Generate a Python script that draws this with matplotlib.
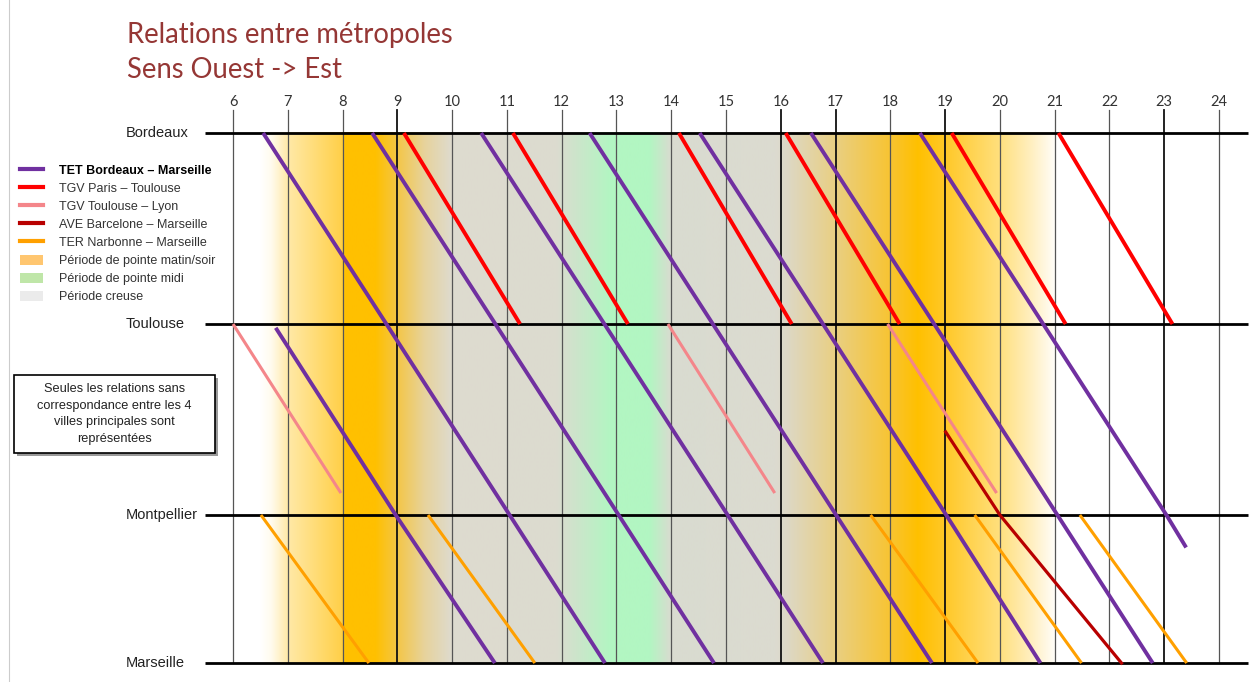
import numpy as np
import matplotlib
matplotlib.use("Agg")
import matplotlib.pyplot as plt
from matplotlib.lines import Line2D
from matplotlib.patches import Patch, Rectangle

# --- data -----------------------------------------------------------------
hours = list(range(6, 25))
stations = ["Bordeaux", "Toulouse", "Montpellier", "Marseille"]
station_pos = [0.0, 1.0, 2.0, 2.775]

# TET Bordeaux - Marseille: (times, positions along the line)
tet_runs = [
    ([6.78, 8.97, 10.78], [1.02, 2.0, 2.775]),
    ([6.55, 8.80, 11.05, 12.79], [0.0, 1.0, 2.0, 2.775]),
    ([8.54, 10.79, 13.04, 14.78], [0.0, 1.0, 2.0, 2.775]),
    ([10.53, 12.78, 15.03, 16.77], [0.0, 1.0, 2.0, 2.775]),
    ([12.51, 14.76, 17.01, 18.76], [0.0, 1.0, 2.0, 2.775]),
    ([14.52, 16.77, 19.02, 20.74], [0.0, 1.0, 2.0, 2.775]),
    ([16.55, 18.80, 21.05, 22.79], [0.0, 1.0, 2.0, 2.775]),
    ([18.54, 20.79, 23.04, 23.40], [0.0, 1.0, 2.0, 2.17]),
]
# TGV Paris - Toulouse (Bordeaux -> Toulouse)
tgv_pt_dep = [9.12, 11.11, 14.14, 16.09, 19.12, 21.07]
tgv_pt_arr = [11.24, 13.21, 16.20, 18.17, 21.20, 23.15]
# TGV Toulouse - Lyon (Toulouse -> towards Montpellier)
tgv_tl_dep = [6.00, 13.94, 17.95]
tgv_tl_end = [7.97, 15.89, 19.94]
tgv_tl_pos = [1.0, 1.885]
# AVE Barcelone - Marseille
ave_times = [19.01, 20.00, 22.22]
ave_pos = [1.565, 2.0, 2.775]
# TER Narbonne - Marseille (Montpellier -> Marseille)
ter_dep = [6.51, 9.56, 17.64, 19.54, 21.46]
ter_arr = [8.48, 11.51, 19.60, 21.49, 23.41]

# background periods (hour, colour)
bg_stops = [
    (6.50, "#FFFFFF"), (6.70, "#FFFBEE"), (7.00, "#FFE9A8"), (7.60, "#FFDA6E"),
    (7.98, "#FFD04A"), (8.05, "#FFC000"), (8.60, "#FFC000"), (9.00, "#F4C646"),
    (9.50, "#E7D39C"), (10.00, "#DEDBCF"), (11.90, "#DCDBD0"), (12.90, "#B2F6C2"),
    (13.60, "#B2F6C2"), (14.00, "#D9DBD0"), (15.90, "#DCDBD0"), (16.10, "#DDD8C6"),
    (17.00, "#E9CF82"), (18.00, "#F8C432"), (18.50, "#FFC000"), (19.00, "#FFC828"),
    (20.00, "#FFE07E"), (20.60, "#FFF0C4"), (21.05, "#FFFFFF"),
]

# --- figure ---------------------------------------------------------------
W, H = 1250, 682
fig = plt.figure(figsize=(W / 100, H / 100), dpi=100)
ax = fig.add_axes([0, 0, 1, 1])
ax.axis("off")
pxh = 986 / 18
pxu = 191
ax.set_xlim(6 - 233 / pxh, 6 + (W - 233) / pxh)
ax.set_ylim((H - 133) / pxu, -133 / pxu)

# gradient background
xs = np.linspace(bg_stops[0][0], bg_stops[-1][0], 1200)
sh = [s[0] for s in bg_stops]
rgb = np.array([matplotlib.colors.to_rgb(s[1]) for s in bg_stops])
img = np.stack([np.interp(xs, sh, rgb[:, i]) for i in range(3)], axis=-1)
ax.imshow(img[None, :, :], extent=[xs[0], xs[-1], station_pos[-1], 0],
          aspect="auto", zorder=0, interpolation="bilinear")

# hour grid
thick = [9, 16, 17, 19, 23]
for h in hours:
    ax.plot([h, h], [-23 / pxu, station_pos[-1]], color="#111111" if h in thick else "#555555",
            lw=1.3 if h in thick else 0.9, zorder=1)
    ax.text(h, -31 / pxu, str(h), ha="center", va="center", fontsize=10.5,
            family="Lato", color="#333333")

# station lines
ax.hlines(station_pos, 6 - 28 / pxh, 6 + 1015 / pxh, color="black", lw=2, zorder=2)
for name, p in zip(stations, station_pos):
    ax.text(6 - 107 / pxh, p, name, ha="left", va="center", fontsize=10.5,
            family="Liberation Sans", color="#222222")

c_tet, c_tgv, c_tl, c_ave, c_ter = "#7030A0", "#FF0000", "#F4868A", "#B80000", "#FFA000"

for t, p in tet_runs:
    ax.plot(t, p, color=c_tet, lw=2.8, zorder=4, solid_capstyle="butt")
for d, a in zip(tgv_pt_dep, tgv_pt_arr):
    ax.plot([d, a], [0, 1], color=c_tgv, lw=2.8, zorder=4, solid_capstyle="butt")
for d, a in zip(tgv_tl_dep, tgv_tl_end):
    ax.plot([d, a], tgv_tl_pos, color=c_tl, lw=2.2, zorder=3, solid_capstyle="butt")
ax.plot(ave_times, ave_pos, color=c_ave, lw=2.3, zorder=4)
for d, a in zip(ter_dep, ter_arr):
    ax.plot([d, a], [2.0, 2.775], color=c_ter, lw=2.2, zorder=3, solid_capstyle="butt")

# title
fig.text(127 / W, 1 - 35 / H, "Relations entre métropoles", fontsize=19.8, family="Lato",
         color="#953735", va="center", ha="left")
fig.text(127 / W, 1 - 70 / H, "Sens Ouest -> Est", fontsize=19.8, family="Lato",
         color="#953735", va="center", ha="left")

# legend
handles = [
    Line2D([], [], color=c_tet, lw=3),
    Line2D([], [], color=c_tgv, lw=3),
    Line2D([], [], color=c_tl, lw=3),
    Line2D([], [], color=c_ave, lw=3),
    Line2D([], [], color=c_ter, lw=3),
    Patch(facecolor="#FFC670", edgecolor="none"),
    Patch(facecolor="#BFE6A8", edgecolor="none"),
    Patch(facecolor="#EBEBEB", edgecolor="none"),
]
labels = ["TET Bordeaux – Marseille", "TGV Paris – Toulouse", "TGV Toulouse – Lyon",
          "AVE Barcelone – Marseille", "TER Narbonne – Marseille",
          "Période de pointe matin/soir", "Période de pointe midi", "Période creuse"]
leg = fig.legend(handles, labels, loc="upper left", bbox_to_anchor=(20 / W, 1 - 164 / H),
                 frameon=False, prop={"family": "Liberation Sans", "size": 9},
                 handlelength=1.8, handleheight=0.9, handletextpad=1.3, labelspacing=0.45,
                 borderaxespad=0, borderpad=0)
for txt in leg.get_texts():
    txt.set_color("#333333")
leg.get_texts()[0].set_fontweight("bold")
leg.get_texts()[0].set_color("black")

# note box
fig.add_artist(Rectangle((17 / W, 1 - 456 / H), 201 / W, 78 / H, transform=fig.transFigure,
                         facecolor="#9a9a9a", edgecolor="none", zorder=5))
fig.add_artist(Rectangle((14 / W, 1 - 453 / H), 201 / W, 78 / H, transform=fig.transFigure,
                         facecolor="white", edgecolor="black", lw=1.2, zorder=6))
fig.text(114.5 / W, 1 - 414 / H,
         "Seules les relations sans\ncorrespondance entre les 4\nvilles principales sont\nreprésentées",
         ha="center", va="center", fontsize=9.2, family="Liberation Sans",
         linespacing=1.5, zorder=7, color="#222222")

fig.add_artist(Line2D([9 / W, 9 / W], [0, 1], color="#cccccc", lw=0.8, transform=fig.transFigure))

fig.savefig("out.png", dpi=100)
